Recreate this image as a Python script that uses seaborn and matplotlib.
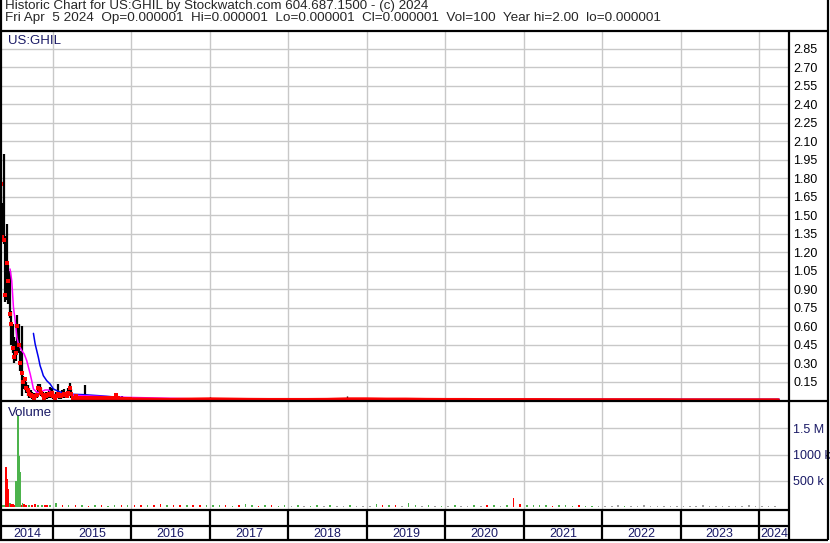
import numpy as np
import pandas as pd
import seaborn as sns
import matplotlib.pyplot as plt
import matplotlib.dates as mdates
from matplotlib.lines import Line2D

sns.set_style('white')
plt.rcParams['font.family'] = ['Liberation Sans', 'DejaVu Sans']

# weekly price bars, May 2014 - Dec 2015
wk_hi = [1.78, 1.60, 2.00, 1.33, 1.43, 1.10, 1.05, 0.72, 0.62, 0.51,
         0.48, 0.69, 0.62, 0.40, 0.60, 0.20, 0.19, 0.15, 0.12, 0.10,
         0.08, 0.07, 0.06, 0.05, 0.07, 0.13, 0.13, 0.10, 0.07, 0.06,
         0.07, 0.06, 0.08, 0.11, 0.10, 0.06, 0.05, 0.07, 0.13, 0.06,
         0.05, 0.08, 0.09, 0.06, 0.05, 0.10, 0.14, 0.09, 0.04, 0.03,
         0.05, 0.04, 0.03, 0.04, 0.03, 0.04, 0.12, 0.03, 0.03, 0.025,
         0.03, 0.03, 0.025, 0.03, 0.03, 0.025, 0.03, 0.03, 0.03, 0.025,
         0.03, 0.025, 0.03, 0.03, 0.03, 0.03, 0.035, 0.045, 0.03, 0.025,
         0.025, 0.03, 0.025, 0.02, 0.02, 0.02, 0.02]
wk_lo = [1.30, 1.29, 1.27, 0.80, 0.81, 0.78, 0.67, 0.45, 0.38, 0.30,
         0.32, 0.40, 0.38, 0.24, 0.03, 0.09, 0.10, 0.06, 0.03, 0.02,
         0.02, 0.01, 0.01, 0.01, 0.02, 0.03, 0.04, 0.03, 0.02, 0.01,
         0.01, 0.01, 0.02, 0.02, 0.02, 0.01, 0.01, 0.01, 0.02, 0.01,
         0.01, 0.02, 0.02, 0.02, 0.02, 0.03, 0.03, 0.02, 0.01, 0.01,
         0.01, 0.01, 0.01, 0.01, 0.01, 0.01, 0.01, 0.01, 0.005, 0.005,
         0.005, 0.005, 0.005, 0.005, 0.005, 0.005, 0.005, 0.005, 0.005, 0.005,
         0.005, 0.005, 0.005, 0.005, 0.005, 0.005, 0.005, 0.005, 0.005, 0.005,
         0.005, 0.005, 0.005, 0.005, 0.005, 0.005, 0.005]
wk_cl = [1.75, 1.32, 1.30, 0.85, 1.11, 0.97, 0.70, 0.62, 0.42, 0.35,
         0.38, 0.60, 0.45, 0.30, 0.22, 0.15, 0.17, 0.10, 0.08, 0.05,
         0.04, 0.03, 0.02, 0.03, 0.04, 0.10, 0.09, 0.06, 0.04, 0.02,
         0.03, 0.04, 0.05, 0.04, 0.06, 0.03, 0.02, 0.03, 0.05, 0.03,
         0.03, 0.04, 0.05, 0.04, 0.03, 0.06, 0.10, 0.05, 0.02, 0.02,
         0.03, 0.02, 0.02, 0.02, 0.02, 0.02, 0.02, 0.015, 0.015, 0.015,
         0.015, 0.015, 0.015, 0.015, 0.015, 0.015, 0.015, 0.015, 0.015, 0.015,
         0.015, 0.015, 0.015, 0.015, 0.015, 0.015, 0.02, 0.04, 0.015, 0.012,
         0.012, 0.012, 0.012, 0.012, 0.012, 0.012, 0.012]
wk_dates = pd.date_range('2014-05-02', periods=len(wk_hi), freq='7D')

# quarterly bars 2016 - 2024
late_hi = [0.02, 0.015, 0.012, 0.012, 0.025, 0.015, 0.02, 0.01,
           0.01, 0.01, 0.01, 0.03, 0.02, 0.02, 0.02, 0.01,
           0.01, 0.01, 0.01, 0.01, 0.01, 0.01, 0.01, 0.01,
           0.008, 0.008, 0.008, 0.008, 0.006, 0.006, 0.006, 0.006,
           0.005, 0.005]
late_cl = [0.012, 0.010, 0.008, 0.010, 0.012, 0.010, 0.008, 0.007,
           0.007, 0.007, 0.008, 0.012, 0.012, 0.010, 0.010, 0.008,
           0.007, 0.007, 0.006, 0.006, 0.006, 0.006, 0.005, 0.005,
           0.005, 0.005, 0.005, 0.005, 0.004, 0.004, 0.004, 0.004,
           0.004, 0.004]
late_dates = pd.date_range('2016-01-01', periods=len(late_hi), freq='QS')

# moving averages
mag_dates = ['2014-06-15', '2014-06-23', '2014-07-01', '2014-07-09', '2014-07-17',
             '2014-07-24', '2014-08-09', '2014-08-20', '2014-09-01', '2014-09-09',
             '2014-09-17', '2014-09-24', '2014-10-02', '2014-10-18', '2014-11-02',
             '2014-11-25', '2014-12-11', '2014-12-26', '2015-01-11', '2015-03-06',
             '2015-05-21', '2015-12-12', '2016-11-16', '2018-06-01', '2020-06-01',
             '2022-06-01', '2024-04-05']
mag_vals = [1.064, 0.969, 0.752, 0.645, 0.509, 0.456, 0.401, 0.375, 0.32, 0.266,
            0.212, 0.158, 0.091, 0.064, 0.064, 0.083, 0.083, 0.064, 0.036, 0.045,
            0.036, 0.023, 0.010, 0.006, 0.005, 0.005, 0.005]
blue_dates = ['2014-10-02', '2014-10-10', '2014-10-25', '2014-11-02', '2014-11-10',
              '2014-11-17', '2014-12-03', '2014-12-19', '2015-01-03', '2015-01-26',
              '2015-03-06', '2015-05-22', '2015-08-08', '2015-12-10', '2016-03-28',
              '2016-11-16', '2018-06-01', '2020-06-01', '2022-06-01', '2024-04-05']
blue_vals = [0.542, 0.456, 0.347, 0.28, 0.239, 0.199, 0.158, 0.131, 0.091, 0.072,
             0.050, 0.045, 0.036, 0.018, 0.010, 0.007, 0.007, 0.007, 0.007, 0.007]

# volume: 2014 spikes, then monthly (thousands of shares)
vol_early_dates = ['2014-05-05', '2014-05-12', '2014-05-20', '2014-05-29', '2014-06-02',
                   '2014-06-08', '2014-06-15', '2014-06-19', '2014-06-29', '2014-07-06',
                   '2014-07-13', '2014-07-20', '2014-07-26', '2014-08-01', '2014-08-08',
                   '2014-08-12', '2014-08-20', '2014-08-29', '2014-09-10', '2014-09-25',
                   '2014-10-10', '2014-10-25', '2014-11-10', '2014-11-25', '2014-12-03',
                   '2014-12-18']
vol_early = [25, 30, 45, 756, 532, 340, 85, 60, 50, 40,
             500, 1750, 980, 660, 30, 70, 50, 40, 30, 35,
             50, 30, 35, 30, 40, 35]
vol_early_col = 'gggrrrgrrrggggrgrrgrrggrrg'

vol_month = [70, 35, 45, 30, 35, 25, 30, 35, 25, 40, 30, 35,      # 2015
             35, 45, 30, 35, 50, 40, 30, 35, 45, 40, 35, 30,      # 2016
             30, 40, 35, 25, 30, 60, 30, 25, 35, 30, 25, 30,      # 2017
             25, 30, 25, 25, 40, 25, 30, 25, 25, 30, 25, 25,      # 2018
             25, 60, 45, 35, 30, 25, 70, 30, 25, 30, 25, 25,      # 2019
             25, 30, 25, 25, 30, 25, 35, 30, 25, 30, 170, 60,     # 2020
             45, 40, 35, 30, 25, 30, 35, 25, 30, 25, 25, 25,      # 2021
             25, 25, 30, 25, 25, 25, 30, 25, 25, 25, 25, 25,      # 2022
             25, 25, 25, 30, 25, 25, 25, 25, 25, 25, 30, 25,      # 2023
             25, 25, 25]                                          # 2024
vol_month_col = ('grgrgrgrggrg' 'rrgrrgrrgrrg' 'ggrgrggrgrgg' 'kgkggkgkkgkk'
                 'kgrgrkggkgkg' 'kgkkgkrgkgrr' 'ggggrgggrggk' 'kkkgkkkkkkkk'
                 'kkkkkkkkkkkk' 'kkk')
vol_month_dates = pd.date_range('2015-01-01', periods=len(vol_month), freq='MS') + pd.Timedelta(days=14)

years = [2014, 2015, 2016, 2017, 2018, 2019, 2020, 2021, 2022, 2023, 2024]
year_starts = pd.to_datetime(['2015-01-01', '2016-01-01', '2017-01-01', '2018-01-01', '2019-01-01',
                              '2020-01-01', '2021-01-01', '2022-01-01', '2023-01-01', '2024-01-01'])
price_ticks = [0.15, 0.30, 0.45, 0.60, 0.75, 0.90, 1.05, 1.20, 1.35, 1.50,
               1.65, 1.80, 1.95, 2.10, 2.25, 2.40, 2.55, 2.70, 2.85]
vol_ticks = [500e3, 1e6, 1.5e6]
vol_labels = ['500 k', '1000 k', '1.5 M']

x_left = pd.Timestamp('2014-05-04')
x_right = pd.Timestamp('2024-05-20')

W, H = 830, 543
fig = plt.figure(figsize=(W / 100, H / 100), dpi=100)
grid_col = '#c8c8c8'
navy = '#1a1a66'
vcol = {'g': '#4cb34c', 'r': '#ff0000', 'k': '#a0a0a0'}

# price panel
ax_p = fig.add_axes([1 / W, (H - 401) / H, 788 / W, 370 / H])
ax_p.vlines(wk_dates, wk_lo, wk_hi, color='black', lw=1.6)
ax_p.vlines(late_dates, 0, late_hi, color='black', lw=1.0)
sns.lineplot(x=pd.to_datetime(blue_dates), y=blue_vals, ax=ax_p, color='#0000ee', lw=1.1)
sns.lineplot(x=pd.to_datetime(mag_dates), y=mag_vals, ax=ax_p, color='#ff00ff', lw=1.1)
tail_dates = list(wk_dates[48:]) + list(late_dates)
tail_cl = wk_cl[48:] + late_cl
sns.lineplot(x=tail_dates, y=tail_cl, ax=ax_p, color='red', lw=2.0)
ax_p.plot(wk_dates, wk_cl, 's', color='red', ms=2.2, mew=0)
ax_p.set_ylim(-0.0065, 2.994)
ax_p.set_xlim(x_left, x_right)
ax_p.set_yticks(price_ticks)
ax_p.set_yticklabels(['%.2f' % t for t in price_ticks])
ax_p.yaxis.tick_right()
ax_p.set_xticks(year_starts)
ax_p.tick_params(axis='y', length=0, pad=3, labelsize=9, labelcolor='black')
ax_p.tick_params(axis='x', length=0, labelbottom=False)
ax_p.grid(True, color=grid_col, lw=1.0)
ax_p.set_axisbelow(True)
ax_p.set_xlabel('')
ax_p.set_ylabel('')
for s in ax_p.spines.values():
    s.set_visible(False)

# volume panel (date numbers so that bar width is in days)
ax_v = fig.add_axes([1 / W, (H - 510) / H, 788 / W, 109 / H])
ax_v.bar(mdates.date2num(pd.to_datetime(vol_early_dates)), [v * 1e3 for v in vol_early], width=9,
         linewidth=0, edgecolor='none', antialiased=False, color=[vcol[c] for c in vol_early_col])
ax_v.bar(mdates.date2num(vol_month_dates), [v * 1e3 for v in vol_month], width=7,
         linewidth=0, edgecolor='none', antialiased=False, color=[vcol[c] for c in vol_month_col])
ax_v.set_ylim(-57e3, 2.023e6)
ax_v.set_xlim(mdates.date2num(x_left), mdates.date2num(x_right))
ax_v.set_yticks(vol_ticks)
ax_v.set_yticklabels(vol_labels)
ax_v.yaxis.tick_right()
ax_v.set_xticks(mdates.date2num(year_starts))
ax_v.tick_params(axis='y', length=0, pad=3, labelsize=9, labelcolor=navy)
ax_v.tick_params(axis='x', length=0, labelbottom=False)
ax_v.grid(True, color=grid_col, lw=1.0)
ax_v.set_axisbelow(True)
for s in ax_v.spines.values():
    s.set_visible(False)

# year strip
ax_s = fig.add_axes([1 / W, (H - 540) / H, 788 / W, 30 / H])
ax_s.set_xlim(x_left, x_right)
ax_s.set_ylim(0, 1)
ax_s.vlines(year_starts, 0, 1, color='black', lw=1.6)
edges = [x_left] + list(year_starts) + [x_right]
for i, yr in enumerate(years):
    mid = edges[i] + (edges[i + 1] - edges[i]) / 2
    ax_s.text(mid, 0.2, str(yr), ha='center', va='center', fontsize=9, color=navy)
ax_s.set_xticks([])
ax_s.set_yticks([])
for s in ax_s.spines.values():
    s.set_visible(False)


def fline(x0, y0, x1, y1):
    fig.add_artist(Line2D([x0 / W, x1 / W], [1 - y0 / H, 1 - y1 / H], color='black',
                          lw=1.6, transform=fig.transFigure, solid_capstyle='butt'))


fline(1, 0, 1, 540)
fline(828, 0, 828, 540)
fline(0, 31, 828, 31)
fline(0, 401, 828, 401)
fline(0, 540, 828, 540)
fline(789, 31, 789, 540)
fline(0, 510, 789, 510)
fline(0, 526, 789, 526)

fig.text(5 / W, 1 - 6.5 / H, 'Historic Chart for US:GHIL by Stockwatch.com 604.687.1500 - (c) 2024',
         fontsize=9.6, va='center', ha='left')
fig.text(5 / W, 1 - 17.5 / H,
         'Fri Apr  5 2024  Op=0.000001  Hi=0.000001  Lo=0.000001  Cl=0.000001  Vol=100  Year hi=2.00  lo=0.000001',
         fontsize=9.7, va='center', ha='left')
fig.text(8 / W, 1 - 41 / H, 'US:GHIL', fontsize=9.5, va='center', ha='left', color=navy)
fig.text(8 / W, 1 - 413 / H, 'Volume', fontsize=9.5, va='center', ha='left', color=navy)

fig.savefig('out.png', dpi=100)
